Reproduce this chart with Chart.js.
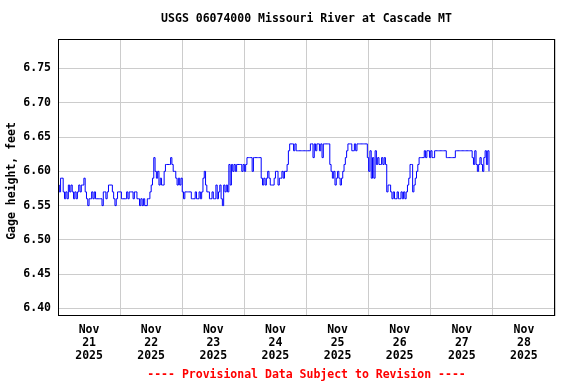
<!DOCTYPE html>
<html>
<head>
<meta charset="utf-8">
<script src="https://cdn.jsdelivr.net/npm/chart.js@4"></script>
<style>
  body { margin: 0; background: #fff; }
</style>
</head>
<body>
<canvas id="gage-chart" width="576" height="384"></canvas>
<script>
// half-hourly gage height readings (feet), starting Nov 21 00:00
const nov21 = [6.58,6.57,6.59,6.59,6.57,6.56,6.57,6.56,6.58,6.57,6.58,6.57,6.56,6.57,6.56,6.57,
  6.58,6.57,6.58,6.58,6.59,6.57,6.56,6.55,6.56,6.56,6.57,6.56,6.57,6.56,6.56,6.56,
  6.56,6.56,6.55,6.57,6.57,6.56,6.57,6.58,6.58,6.58,6.57,6.56,6.55,6.56,6.57,6.57];
const nov22 = [6.57,6.56,6.56,6.56,6.56,6.57,6.56,6.57,6.57,6.57,6.56,6.57,6.57,6.56,6.56,6.55,
  6.56,6.55,6.56,6.55,6.55,6.56,6.56,6.57,6.58,6.59,6.62,6.60,6.59,6.60,6.58,6.59,
  6.58,6.58,6.60,6.61,6.61,6.61,6.61,6.62,6.61,6.60,6.60,6.59,6.58,6.59,6.58,6.59];
const nov23 = [6.57,6.56,6.57,6.57,6.57,6.57,6.57,6.56,6.56,6.56,6.57,6.56,6.56,6.57,6.56,6.57,
  6.59,6.60,6.58,6.57,6.57,6.56,6.56,6.57,6.56,6.56,6.58,6.56,6.57,6.58,6.56,6.55,
  6.58,6.57,6.58,6.57,6.61,6.58,6.61,6.60,6.61,6.60,6.61,6.61,6.61,6.61,6.60,6.61];
const nov24 = [6.60,6.61,6.62,6.62,6.62,6.62,6.60,6.62,6.62,6.62,6.62,6.62,6.62,6.59,6.58,6.59,
  6.58,6.59,6.60,6.59,6.58,6.58,6.58,6.59,6.60,6.60,6.58,6.59,6.59,6.60,6.59,6.60,
  6.60,6.61,6.63,6.64,6.64,6.64,6.63,6.64,6.63,6.63,6.63,6.63,6.63,6.63,6.63,6.63];
const nov25 = [6.63,6.63,6.63,6.64,6.64,6.62,6.64,6.63,6.64,6.64,6.63,6.64,6.62,6.64,6.64,6.64,
  6.64,6.64,6.61,6.60,6.59,6.60,6.58,6.59,6.60,6.59,6.58,6.59,6.60,6.61,6.62,6.63,
  6.64,6.64,6.64,6.63,6.63,6.64,6.63,6.64,6.64,6.64,6.64,6.64,6.64,6.64,6.64,6.62];
const nov26 = [6.60,6.63,6.59,6.62,6.59,6.63,6.61,6.62,6.61,6.61,6.62,6.61,6.62,6.61,6.57,6.58,
  6.58,6.57,6.56,6.57,6.56,6.56,6.57,6.56,6.56,6.57,6.56,6.57,6.56,6.57,6.58,6.59,
  6.61,6.61,6.57,6.58,6.59,6.60,6.61,6.62,6.62,6.62,6.62,6.63,6.62,6.63,6.63,6.62];
const nov27 = [6.63,6.62,6.62,6.63,6.63,6.63,6.63,6.63,6.63,6.63,6.63,6.63,6.62,6.62,6.62,6.62,
  6.62,6.62,6.62,6.63,6.63,6.63,6.63,6.63,6.63,6.63,6.63,6.63,6.63,6.63,6.63,6.63,
  6.62,6.61,6.63,6.61,6.60,6.61,6.62,6.61,6.60,6.62,6.63,6.61,6.63,6.60];

const month = 'Nov';
const year = '2025';
const dayLabels = ['21', '22', '23', '24', '25', '26', '27', '28'];
const yTicks = [6.40, 6.45, 6.50, 6.55, 6.60, 6.65, 6.70, 6.75];

const readings = [].concat(nov21, nov22, nov23, nov24, nov25, nov26, nov27);
const points = readings.map((v, i) => ({ x: i * 0.5, y: v }));

const FONT = '"DejaVu Sans Mono", "Liberation Mono", monospace';
const boldFont = { family: FONT, size: 11.5, weight: 'bold', lineHeight: 1.2 };
const tickFont = { family: FONT, size: 11.5, weight: 'bold', lineHeight: '13px' };

// black box round the plot area
const frame = {
  id: 'frame',
  afterDraw(chart) {
    const { ctx, chartArea: a } = chart;
    const l = Math.round(a.left) + 0.5, t = Math.round(a.top) + 0.5;
    const r = Math.round(a.right) - 0.5, b = Math.round(a.bottom) - 0.5;
    ctx.save();
    ctx.strokeStyle = '#000';
    ctx.lineWidth = 1;
    ctx.strokeRect(l, t, r - l, b - t);
    ctx.restore();
  }
};

new Chart(document.getElementById('gage-chart'), {
  type: 'line',
  data: {
    datasets: [{
      data: points,
      borderColor: '#0000ff',
      borderWidth: 1,
      pointRadius: 0,
      stepped: true,
      fill: false
    }]
  },
  options: {
    responsive: false,
    animation: false,
    events: [],
    layout: { padding: { left: 0, right: 21, top: 0, bottom: 0 } },
    plugins: {
      legend: { display: false },
      tooltip: { enabled: false },
      title: {
        display: true,
        text: 'USGS 06074000 Missouri River at Cascade MT',
        font: boldFont,
        color: '#000',
        fullSize: false,
        padding: { top: 12.1, bottom: 13.1 }
      },
      subtitle: {
        display: true,
        position: 'bottom',
        text: '---- Provisional Data Subject to Revision ----',
        font: boldFont,
        color: '#ff0000',
        fullSize: false,
        padding: { top: 5.6, bottom: 2.1 }
      }
    },
    scales: {
      x: {
        type: 'linear',
        min: 0,
        max: 192,
        ticks: { display: false, stepSize: 24 },
        grid: { color: '#cccccc', drawTicks: false },
        border: { display: false },
        afterFit: s => { s.height = 0; }
      },
      xDays: {
        type: 'linear',
        position: 'bottom',
        min: 0,
        max: 192,
        grid: { display: false, drawTicks: false },
        border: { display: false },
        afterBuildTicks: s => { s.ticks = dayLabels.map((d, i) => ({ value: 12 + 24 * i })); },
        ticks: {
          autoSkip: false,
          maxRotation: 0,
          padding: 7.5,
          font: tickFont,
          color: '#000',
          callback: (v, i) => [month, dayLabels[i], year]
        },
        afterFit: s => { s.height = 46.5; }
      },
      y: {
        min: 6.389,
        max: 6.793,
        afterBuildTicks: s => { s.ticks = yTicks.map(v => ({ value: v })); },
        ticks: { padding: 7, font: tickFont, color: '#000', callback: v => v.toFixed(2) },
        grid: { color: '#cccccc', drawTicks: false },
        border: { display: false },
        title: {
          display: true,
          // trailing space nudges the label a little lower, as in the original
          text: 'Gage height, feet ',
          font: boldFont,
          color: '#000',
          padding: { top: 5, bottom: 0 }
        },
        afterFit: s => { s.width = 58; }
      }
    }
  },
  plugins: [frame]
});
</script>
</body>
</html>
